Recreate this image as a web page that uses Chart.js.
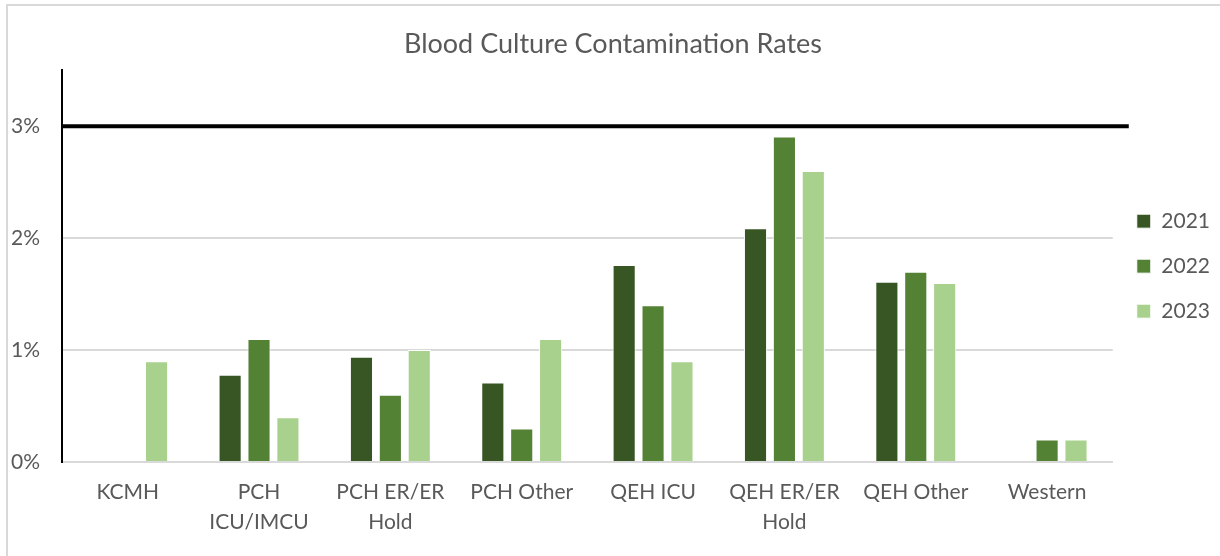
<!DOCTYPE html>
<html>
<head>
<meta charset="utf-8">
<script src="https://cdn.jsdelivr.net/npm/chart.js@4"></script>
<style>
  html, body { margin: 0; padding: 0; background: #fff; }
  #frame {
    position: absolute; left: 6px; top: 4px; width: 1230px; height: 570px;
    border: 2px solid #d9d9d9; box-sizing: border-box;
  }
  #wrap { position: absolute; left: 0; top: 0; width: 1220px; height: 556px; }
</style>
</head>
<body>
<div id="frame"></div>
<div id="wrap"><canvas id="chartContaminacion"></canvas></div>
<script>
// Datos
const categorias = ['KCMH', ['PCH', 'ICU/IMCU'], ['PCH ER/ER', 'Hold'], 'PCH Other', 'QEH ICU', ['QEH ER/ER', 'Hold'], 'QEH Other', 'Western'];
const anios = ['2021', '2022', '2023'];
const valores2021 = [0, 0.78, 0.94, 0.71, 1.76, 2.09, 1.61, 0];
const valores2022 = [0, 1.10, 0.60, 0.30, 1.40, 2.91, 1.70, 0.20];
const valores2023 = [0.90, 0.40, 1.00, 1.10, 0.90, 2.60, 1.60, 0.20];
const objetivo = 3; // linea de referencia 3%
const ticksY = [0, 1, 2, 3];

const colores = ['#375623', '#548235', '#a9d18e'];
const fuente = "Lato, 'Open Sans', sans-serif";
const gris = '#595959';

// linea negra del objetivo
const lineaObjetivo = {
  id: 'lineaObjetivo',
  afterDatasetsDraw(chart) {
    const { ctx, chartArea, scales } = chart;
    const y = scales.y.getPixelForValue(objetivo);
    ctx.save();
    ctx.strokeStyle = '#000';
    ctx.lineWidth = 4;
    ctx.beginPath();
    ctx.moveTo(chartArea.left, y);
    ctx.lineTo(chartArea.right + 16, y);
    ctx.stroke();
    ctx.restore();
  }
};

const ctx = document.getElementById('chartContaminacion').getContext('2d');
const chartContaminacion = new Chart(ctx, {
  type: 'bar',
  data: {
    labels: categorias,
    datasets: [
      { label: anios[0], data: valores2021, backgroundColor: colores[0] },
      { label: anios[1], data: valores2022, backgroundColor: colores[1] },
      { label: anios[2], data: valores2023, backgroundColor: colores[2] }
    ].map(d => Object.assign(d, {
      borderColor: '#ffffff', borderWidth: 1,
      categoryPercentage: 0.66, barPercentage: 0.8
    }))
  },
  options: {
    responsive: true,
    maintainAspectRatio: false,
    animation: false,
    layout: { padding: { top: 0, right: 0, bottom: 4, left: 6 } },
    scales: {
      x: {
        grid: { display: false, drawTicks: false },
        border: { color: '#d9d9d9', width: 2 },
        ticks: {
          color: gris, font: { family: fuente, size: 21, lineHeight: 1.43 },
          padding: 15, maxRotation: 0, autoSkip: false
        }
      },
      y: {
        min: 0, max: 3.5,
        afterBuildTicks(axis) { axis.ticks = ticksY.map(v => ({ value: v })); },
        afterFit(axis) { axis.width = 56; },
        grid: { color: '#d9d9d9', lineWidth: 2, drawTicks: false },
        border: { color: '#000', width: 2 },
        ticks: {
          color: gris, font: { family: fuente, size: 21 }, padding: 22,
          callback: v => v + '%'
        }
      }
    },
    plugins: {
      title: {
        display: true, text: 'Blood Culture Contamination Rates',
        color: gris, font: { family: fuente, size: 27, weight: 'normal' },
        padding: { top: 28, bottom: 10 }
      },
      legend: {
        position: 'right',
        fullSize: false,
        labels: {
          color: gris, font: { family: fuente, size: 21 },
          boxWidth: 14, boxHeight: 14, padding: 24
        }
      },
      tooltip: { enabled: false }
    }
  },
  plugins: [lineaObjetivo]
});
</script>
</body>
</html>
